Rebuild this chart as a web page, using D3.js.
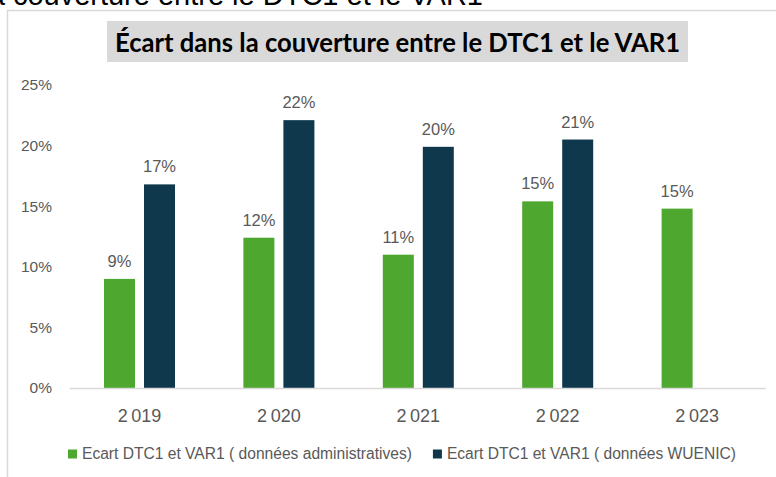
<!DOCTYPE html>
<html>
<head>
<meta charset="utf-8">
<title>Écart DTC1 / VAR1</title>
<script src="https://cdn.jsdelivr.net/npm/d3@7/dist/d3.min.js"></script>
<style>
  body { margin: 0; background: #fff; overflow: hidden; }
  svg { display: block; }
</style>
</head>
<body>
<div id="chart"></div>
<script>
// data (percent)
var years = ["2\u202F019", "2\u202F020", "2\u202F021", "2\u202F022", "2\u202F023"];
var seriesNames = [
  "Ecart DTC1 et VAR1 ( données administratives)",
  "Ecart DTC1 et VAR1 ( données WUENIC)"
];
var adminValues  = [9.0, 12.4, 11.0, 15.4, 14.8];
var wuenicValues = [16.8, 22.1, 19.9, 20.5, null];
var yTicks = [0, 5, 10, 15, 20, 25];
var titleText = "Écart dans la couverture entre le DTC1 et le VAR1";

var colors = ["#4ea72e", "#0f384d"];
var grey = "#595959";
var font = "'Liberation Sans', Arial, sans-serif";

var width = 776, height = 477;

var svg = d3.select("#chart").append("svg")
    .attr("width", width)
    .attr("height", height);

// leftover of the slide heading, cut by the top of the picture
svg.append("text")
    .attr("x", 483).attr("y", 5)
    .attr("text-anchor", "end")
    .style("font-family", font)
    .style("font-size", "29px")
    .style("fill", "#000")
    .text(titleText);

// chart frame
svg.append("path")
    .attr("d", "M7.5," + height + "V10.5H" + (width + 2))
    .attr("fill", "none")
    .attr("stroke", "#d9d9d9")
    .attr("stroke-width", 1.5);

// title box
var title = svg.append("g");
title.append("rect")
    .attr("x", 107).attr("y", 21)
    .attr("width", 581).attr("height", 41)
    .attr("fill", "#d9d9d9");
var tt = title.append("text")
    .attr("x", 397.5).attr("y", 52)
    .attr("text-anchor", "middle")
    .style("font-family", "Lato, 'Open Sans', sans-serif")
    .style("font-weight", "bold")
    .style("font-size", "26px")
    .style("fill", "#000")
    .text(titleText);
if (Math.abs(tt.node().getComputedTextLength() - 565) > 2) {
  tt.attr("textLength", 565).attr("lengthAdjust", "spacingAndGlyphs");
}

// scales
var y = d3.scaleLinear().domain([0, 25]).range([388, 85]);
var x = d3.scaleBand().domain(years).range([69.8, 766.8]);
var xSub = d3.scaleBand().domain([0, 1])
    .range([0, x.bandwidth()])
    .paddingInner(0.225)
    .paddingOuter(0.855);

// y labels only
svg.append("g")
    .selectAll("text")
    .data(yTicks)
    .enter().append("text")
    .attr("x", 52)
    .attr("y", function(d) { return y(d); })
    .attr("dy", "0.35em")
    .attr("text-anchor", "end")
    .style("font-family", font)
    .style("font-size", "15.5px")
    .style("fill", grey)
    .text(function(d) { return d + "%"; });

// bars
var rows = [];
years.forEach(function(yr, i) {
  [adminValues[i], wuenicValues[i]].forEach(function(v, s) {
    if (v != null) rows.push({year: yr, s: s, v: v});
  });
});

svg.append("g")
    .selectAll("rect")
    .data(rows)
    .enter().append("rect")
    .attr("x", function(d) { return x(d.year) + xSub(d.s); })
    .attr("y", function(d) { return y(d.v); })
    .attr("width", xSub.bandwidth())
    .attr("height", function(d) { return y(0) - y(d.v); })
    .attr("fill", function(d) { return colors[d.s]; });

// value labels
svg.append("g")
    .selectAll("text")
    .data(rows)
    .enter().append("text")
    .attr("x", function(d) { return x(d.year) + xSub(d.s) + xSub.bandwidth() / 2; })
    .attr("y", function(d) { return y(d.v) - 12; })
    .attr("text-anchor", "middle")
    .style("font-family", font)
    .style("font-size", "16.5px")
    .style("fill", grey)
    .text(function(d) { return Math.round(d.v) + "%"; });

// baseline
svg.append("line")
    .attr("x1", x.range()[0]).attr("x2", x.range()[1] - 1)
    .attr("y1", y(0) + 0.5).attr("y2", y(0) + 0.5)
    .attr("stroke", "#d9d9d9")
    .attr("stroke-width", 1.5);

// x labels
svg.append("g")
    .selectAll("text")
    .data(years)
    .enter().append("text")
    .attr("x", function(d) { return x(d) + x.bandwidth() / 2; })
    .attr("y", 422)
    .attr("text-anchor", "middle")
    .style("font-family", font)
    .style("font-size", "18px")
    .style("fill", grey)
    .text(function(d) { return d; });

// legend
var legend = svg.append("g");
var lx = 68;
seriesNames.forEach(function(name, i) {
  legend.append("rect")
      .attr("x", lx).attr("y", 449.5)
      .attr("width", 9).attr("height", 9)
      .attr("fill", colors[i]);
  var t = legend.append("text")
      .attr("x", lx + 14).attr("y", 459)
      .style("font-family", font)
      .style("font-size", "15.6px")
      .style("fill", grey)
      .text(name);
  lx = lx + 14 + t.node().getComputedTextLength() + 21;
});
</script>
</body>
</html>
